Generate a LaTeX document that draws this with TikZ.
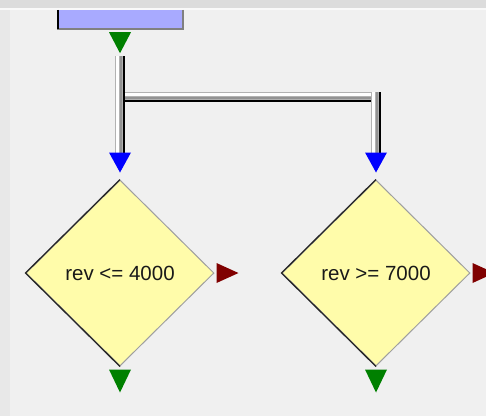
\documentclass[tikz,border=0pt]{standalone}
\usepackage{fontspec}
\setmainfont{Liberation Sans}
\usepackage{tikz}
\usetikzlibrary{shapes.geometric}
\definecolor{panelgray}{RGB}{240,240,240}
\definecolor{bandgray}{RGB}{220,220,220}
\definecolor{stripgray}{RGB}{232,232,232}
\definecolor{boxblue}{RGB}{168,170,255}
\definecolor{condyellow}{RGB}{255,252,170}
\definecolor{tipgreen}{RGB}{0,128,0}
\definecolor{tipblue}{RGB}{0,0,255}
\definecolor{tipred}{RGB}{128,0,0}

\begin{document}
\begin{tikzpicture}[x=1pt, y=-1pt,
  cond/.style={diamond, draw=gray!75, line width=1pt, fill=condyellow,
               minimum width=188pt, minimum height=186pt, inner sep=0pt,
               font=\fontsize{20.5}{24}\selectfont, text=black!90},
  vpipe/.style={line width=10pt, draw=gray!60,
                postaction={draw=white, line width=2.5pt,
                            transform canvas={xshift=-2.5pt}},
                postaction={draw=gray!85, line width=1.5pt,
                            transform canvas={xshift=1pt}},
                postaction={draw=black, line width=2.5pt,
                            transform canvas={xshift=3.75pt}}},
  hpipe/.style={line width=10pt, draw=gray!60,
                postaction={draw=white, line width=2.5pt,
                            transform canvas={yshift=2.5pt}},
                postaction={draw=gray!85, line width=1.5pt,
                            transform canvas={yshift=-1pt}},
                postaction={draw=black, line width=2.5pt,
                            transform canvas={yshift=-3.75pt}}},
]
  \def\T{11} % half width of a tip
  \clip (0,0) rectangle (486,416);

  % --- panel ---
  \fill[panelgray] (0,0) rectangle (486,416);
  \fill[bandgray] (0,0) rectangle (486,8);
  \fill[white!60!panelgray] (0,8) rectangle (486,10);
  \fill[stripgray] (0,10) rectangle (10,416);

  % start block (cut by the panel top)
  \node[fill=boxblue, minimum width=126pt, minimum height=19pt, inner sep=0pt]
    (start) at (120,19.5) {};
  \draw[gray, line width=1.5pt] (start.north east) -- (start.south east)
    -- (start.south west);
  \draw[black, line width=1.5pt] ([xshift=1pt]start.north west)
    -- ([xshift=1pt]start.south west);

  % conditions
  \node[cond] (cond1) at (120,273) {rev <= 4000};
  \node[cond] (cond2) at (376,273) {rev >= 7000};
  \foreach \n in {cond1, cond2}
    \draw[black!85, line width=1.3pt] (\n.north) -- (\n.west) -- (\n.south);

  % --- pipes ---
  \coordinate (split) at (125,97);
  \draw[vpipe] ([yshift=-27pt]start.south) -- ([yshift=27pt]cond1.north);
  \draw[hpipe] (split) -- ([xshift=5pt]split -| cond2.north);
  \draw[vpipe] ([yshift=5pt]split -| cond2.north) -- ([yshift=27pt]cond2.north);

  % --- tips ---
  \fill[tipgreen] ([yshift=-3pt]start.south) -- ++(-\T,0) -- ++(\T,21)
    -- ++(\T,-21) -- cycle;
  \foreach \n in {cond1, cond2} {
    \fill[tipblue] ([yshift=27pt]\n.north) -- ++(-\T,0) -- ++(\T,20)
      -- ++(\T,-20) -- cycle;
    \fill[tipgreen] ([yshift=-3pt]\n.south) -- ++(-\T,0) -- ++(\T,23)
      -- ++(\T,-23) -- cycle;
    \fill[tipred] ([xshift=2pt]\n.east) -- ++(0,-10) -- ++(22,10)
      -- ++(-22,10) -- cycle;
  }
\end{tikzpicture}
\end{document}
